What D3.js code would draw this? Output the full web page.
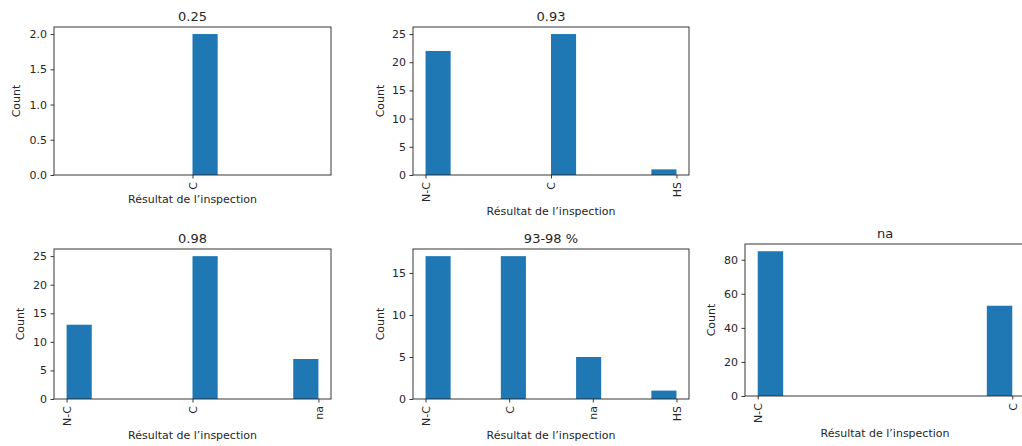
<!DOCTYPE html>
<html>
<head>
<meta charset="utf-8">
<script src="https://cdn.jsdelivr.net/npm/d3@7"></script>
<style>
  html, body { margin: 0; padding: 0; background: #fff; overflow: hidden; }
  svg { display: block; }
  text { font-family: "DejaVu Sans", sans-serif; fill: #262626; }
</style>
</head>
<body>
<svg id="chart" width="1022" height="446"></svg>
<script>
// Inspection results per group: counts of each outcome
const panelTitles = ["0.25", "0.93", "0.98", "93-98 %", "na"];
const panelCategories = [
  ["C"],
  ["N-C", "C", "HS"],
  ["N-C", "C", "na"],
  ["N-C", "C", "na", "HS"],
  ["N-C", "C"]
];
const panelCounts = [
  [2],
  [22, 25, 1],
  [13, 25, 7],
  [17, 17, 5, 1],
  [85, 53]
];
const yTickValues = [
  [0, 0.5, 1, 1.5, 2],
  [0, 5, 10, 15, 20, 25],
  [0, 5, 10, 15, 20, 25],
  [0, 5, 10, 15],
  [0, 20, 40, 60, 80]
];
const xLabel = "Résultat de l’inspection";
const yLabel = "Count";

// Axes boxes in the figure (left, right, top, bottom)
const boxes = [
  { l: 54,  r: 331,  t: 27,  b: 175 },
  { l: 413, r: 689,  t: 27,  b: 175 },
  { l: 54,  r: 331,  t: 249, b: 399 },
  { l: 413, r: 689,  t: 249, b: 399 },
  { l: 745, r: 1025, t: 244, b: 396 }
];
const yLabelX = [20, 384, 24, 384, 715];
const xLabelY = [203, 215, 439, 439, 437];

const BAR = "#1f77b4";
const NBINS = 10;
const TICK_FONT = 11;
const LABEL_FONT = 11;
const TITLE_FONT = 13;
const svg = d3.select("#chart");

panelTitles.forEach((title, p) => {
  const cats = panelCategories[p];
  const counts = panelCounts[p];
  const box = boxes[p];
  const n = cats.length;

  // histogram bins over the category positions (0..n-1)
  const lo = n === 1 ? -0.5 : 0;
  const hi = n === 1 ? 0.5 : n - 1;
  const w = (hi - lo) / NBINS;
  const span = hi - lo;
  const bars = cats.map((c, i) => {
    const k = Math.min(Math.floor((i - lo) / w + 1e-9), NBINS - 1);
    return { cat: c, x0: lo + k * w, x1: lo + (k + 1) * w, count: counts[i] };
  });

  const x = d3.scaleLinear()
    .domain([lo - 0.05 * span, hi + 0.05 * span])
    .range([box.l, box.r]);
  const yMax = d3.max(counts) * 1.05;
  const y = d3.scaleLinear().domain([0, yMax]).range([box.b, box.t]);

  const g = svg.append("g");

  g.selectAll("rect.bar").data(bars).enter().append("rect")
    .attr("class", "bar")
    .attr("x", d => x(d.x0))
    .attr("width", d => x(d.x1) - x(d.x0))
    .attr("y", d => y(d.count))
    .attr("height", d => y(0) - y(d.count))
    .attr("fill", BAR);

  // frame
  g.append("rect")
    .attr("x", box.l).attr("y", box.t)
    .attr("width", box.r - box.l).attr("height", box.b - box.t)
    .attr("fill", "none").attr("stroke", "#222").attr("stroke-width", 0.9);

  // y axis
  const yFmt = p === 0 ? d3.format(".1f") : d3.format("d");
  const yAxis = d3.axisLeft(y).tickValues(yTickValues[p]).tickFormat(yFmt)
    .tickSize(3.5).tickPadding(3.5);
  const ya = g.append("g").attr("transform", `translate(${box.l},0)`).call(yAxis);
  ya.select(".domain").remove();
  ya.selectAll(".tick line").attr("stroke", "#222").attr("stroke-width", 0.9);
  ya.selectAll(".tick text").attr("font-size", TICK_FONT).attr("fill", "#262626")
    .style("font-family", "DejaVu Sans, sans-serif");

  // x axis with vertical category labels
  const xAxis = d3.axisBottom(x).tickValues(d3.range(n).map(i => (n === 1 ? 0 : i)))
    .tickFormat((d, i) => cats[i]).tickSize(3.5).tickPadding(3.5);
  const xa = g.append("g").attr("transform", `translate(0,${box.b})`).call(xAxis);
  xa.select(".domain").remove();
  xa.selectAll(".tick line").attr("stroke", "#222").attr("stroke-width", 0.9);
  xa.selectAll(".tick text")
    .attr("font-size", TICK_FONT).attr("fill", "#262626")
    .style("font-family", "DejaVu Sans, sans-serif")
    .attr("text-anchor", "end")
    .attr("dy", "0.35em")
    .attr("transform", "translate(0,7) rotate(-90)")
    .attr("x", 0).attr("y", 0);

  // title and axis labels
  g.append("text")
    .attr("x", (box.l + Math.min(box.r, 1025)) / 2).attr("y", box.t - 6)
    .attr("text-anchor", "middle").attr("font-size", TITLE_FONT)
    .text(title);
  g.append("text")
    .attr("x", (box.l + box.r) / 2).attr("y", xLabelY[p])
    .attr("text-anchor", "middle").attr("font-size", LABEL_FONT)
    .text(xLabel);
  g.append("text")
    .attr("transform", `translate(${yLabelX[p]},${(box.t + box.b) / 2}) rotate(-90)`)
    .attr("text-anchor", "middle").attr("font-size", LABEL_FONT)
    .text(yLabel);
});
</script>
</body>
</html>
